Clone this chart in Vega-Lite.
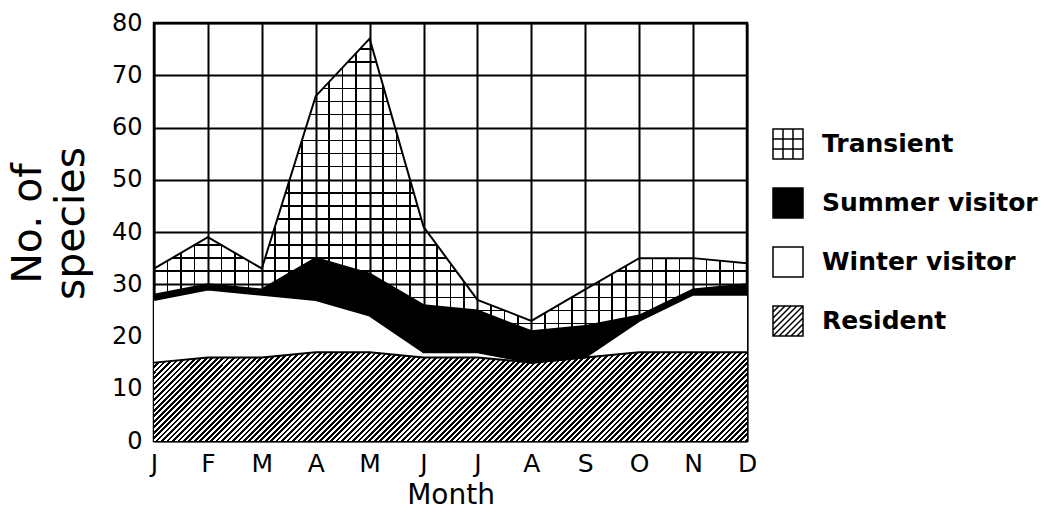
{
"$schema": "https://vega.github.io/schema/vega-lite/v6.json",
"width": 593, "height": 418,
"autosize": {"type": "none"},
"padding": {"left": 154, "top": 23, "right": 302, "bottom": 82},
"background": "white",
"data": {"values": [
{"month":1,"type":"Resident","count":15},{"month":1,"type":"Winter visitor","count":12},{"month":1,"type":"Summer visitor","count":1},{"month":1,"type":"Transient","count":5},
{"month":2,"type":"Resident","count":16},{"month":2,"type":"Winter visitor","count":13},{"month":2,"type":"Summer visitor","count":1},{"month":2,"type":"Transient","count":9},
{"month":3,"type":"Resident","count":16},{"month":3,"type":"Winter visitor","count":12},{"month":3,"type":"Summer visitor","count":1},{"month":3,"type":"Transient","count":4},
{"month":4,"type":"Resident","count":17},{"month":4,"type":"Winter visitor","count":10},{"month":4,"type":"Summer visitor","count":8},{"month":4,"type":"Transient","count":31},
{"month":5,"type":"Resident","count":17},{"month":5,"type":"Winter visitor","count":7},{"month":5,"type":"Summer visitor","count":8},{"month":5,"type":"Transient","count":45},
{"month":6,"type":"Resident","count":16},{"month":6,"type":"Winter visitor","count":1},{"month":6,"type":"Summer visitor","count":9},{"month":6,"type":"Transient","count":15},
{"month":7,"type":"Resident","count":16},{"month":7,"type":"Winter visitor","count":1},{"month":7,"type":"Summer visitor","count":8},{"month":7,"type":"Transient","count":2},
{"month":8,"type":"Resident","count":15},{"month":8,"type":"Winter visitor","count":0},{"month":8,"type":"Summer visitor","count":6},{"month":8,"type":"Transient","count":2},
{"month":9,"type":"Resident","count":16},{"month":9,"type":"Winter visitor","count":0},{"month":9,"type":"Summer visitor","count":6},{"month":9,"type":"Transient","count":7},
{"month":10,"type":"Resident","count":17},{"month":10,"type":"Winter visitor","count":6},{"month":10,"type":"Summer visitor","count":1},{"month":10,"type":"Transient","count":11},
{"month":11,"type":"Resident","count":17},{"month":11,"type":"Winter visitor","count":11},{"month":11,"type":"Summer visitor","count":1},{"month":11,"type":"Transient","count":6},
{"month":12,"type":"Resident","count":17},{"month":12,"type":"Winter visitor","count":11},{"month":12,"type":"Summer visitor","count":2},{"month":12,"type":"Transient","count":4}
]},
"transform": [{"stack": "count", "groupby": ["month"], "as": ["lo", "hi"]}],
"encoding": {
  "x": {"field": "month", "type": "quantitative",
        "scale": {"domain": [1, 12], "nice": false, "zero": false},
        "axis": {"values": [1,2,3,4,5,6,7,8,9,10,11,12],
                 "labelExpr": "['J','F','M','A','M','J','J','A','S','O','N','D'][datum.value - 1]",
                 "grid": true, "ticks": false, "tickSize": 0, "domain": false,
                 "labelFlush": false, "labelOverlap": false,
                 "labelFontSize": 25, "labelPadding": 10,
                 "title": "Month", "titleFontSize": 28, "titleX": 296.5, "titleY": 62, "titleBaseline": "alphabetic"}},
  "y": {"field": "hi", "type": "quantitative", "stack": null,
        "scale": {"domain": [0, 80], "nice": false},
        "axis": {"values": [0,10,20,30,40,50,60,70,80],
                 "grid": true, "ticks": false, "tickSize": 0, "domain": false,
                 "labelFlush": false, "labelOverlap": false,
                 "labelFontSize": 24, "labelPadding": 12,
                 "title": ["No. of", "species"], "titleFontSize": 41,
                 "titleX": -114, "titleY": 200, "titleAngle": -90,
                 "titleAlign": "center", "titleBaseline": "alphabetic", "titleLineHeight": 43}}
},
"layer": [
  {"mark": {"type": "area"},
   "encoding": {
     "y2": {"field": "lo"},
     "color": {"field": "type", "type": "nominal",
               "scale": {"domain": ["Transient", "Summer visitor", "Winter visitor", "Resident"],
                         "range": ["transparent", "black", "white", "white"]},
               "legend": {"title": null, "orient": "none", "legendX": 618, "legendY": 105, "direction": "vertical",
                          "symbolSize": 900, "symbolStrokeWidth": 1.5, "symbolStrokeColor": "black",
                          "labelFont": "DejaVu Sans", "labelFontWeight": "bold", "labelFontSize": 25, "labelColor": "black",
                          "labelOffset": 18, "rowPadding": 23, "padding": 0, "labelLimit": 400,
                          "encoding": {"symbols": {
                             "shape": {"condition": [
                                {"test": "datum.value === 'Transient'", "value": "M-1,-1H1V1H-1ZM-0.333,-1V1M0.333,-1V1M-1,-0.333H1M-1,0.333H1"},
                                {"test": "datum.value === 'Resident'", "value": "M-1,-1H1V1H-1ZM-1,-0.6L-0.6,-1M-1,-0.2L-0.2,-1M-1,0.2L0.2,-1M-1,0.6L0.6,-1M-1,1L1,-1M-0.6,1L1,-0.6M-0.2,1L1,-0.2M0.2,1L1,0.2M0.6,1L1,0.6"}],
                                "value": "square"},
                             "fill": {"condition": {"test": "datum.value === 'Summer visitor'", "value": "black"}, "value": "white"},
                             "stroke": {"value": "black"},
                             "strokeWidth": {"value": 1.5},
                             "opacity": {"value": 1},
                             "fillOpacity": {"value": 1}}}}}}},
  {"transform": [{"filter": "datum.type === 'Resident'"}],
   "mark": {"type": "area", "fill": {"gradient": "linear", "x1": 0, "y1": 0, "x2": 1.1246, "y2": 0.1684, "stops": [
{"offset":0,"color":"#fff"},
{"offset":0.004,"color":"#fff"},{"offset":0.004,"color":"#000"},{"offset":0.008,"color":"#000"},{"offset":0.008,"color":"#fff"},
{"offset":0.012,"color":"#fff"},{"offset":0.012,"color":"#000"},{"offset":0.016,"color":"#000"},{"offset":0.016,"color":"#fff"},
{"offset":0.02,"color":"#fff"},{"offset":0.02,"color":"#000"},{"offset":0.024,"color":"#000"},{"offset":0.024,"color":"#fff"},
{"offset":0.028,"color":"#fff"},{"offset":0.028,"color":"#000"},{"offset":0.032,"color":"#000"},{"offset":0.032,"color":"#fff"},
{"offset":0.036,"color":"#fff"},{"offset":0.036,"color":"#000"},{"offset":0.04,"color":"#000"},{"offset":0.04,"color":"#fff"},
{"offset":0.044,"color":"#fff"},{"offset":0.044,"color":"#000"},{"offset":0.048,"color":"#000"},{"offset":0.048,"color":"#fff"},
{"offset":0.052,"color":"#fff"},{"offset":0.052,"color":"#000"},{"offset":0.056,"color":"#000"},{"offset":0.056,"color":"#fff"},
{"offset":0.06,"color":"#fff"},{"offset":0.06,"color":"#000"},{"offset":0.064,"color":"#000"},{"offset":0.064,"color":"#fff"},
{"offset":0.068,"color":"#fff"},{"offset":0.068,"color":"#000"},{"offset":0.072,"color":"#000"},{"offset":0.072,"color":"#fff"},
{"offset":0.076,"color":"#fff"},{"offset":0.076,"color":"#000"},{"offset":0.08,"color":"#000"},{"offset":0.08,"color":"#fff"},
{"offset":0.084,"color":"#fff"},{"offset":0.084,"color":"#000"},{"offset":0.088,"color":"#000"},{"offset":0.088,"color":"#fff"},
{"offset":0.092,"color":"#fff"},{"offset":0.092,"color":"#000"},{"offset":0.096,"color":"#000"},{"offset":0.096,"color":"#fff"},
{"offset":0.1,"color":"#fff"},{"offset":0.1,"color":"#000"},{"offset":0.104,"color":"#000"},{"offset":0.104,"color":"#fff"},
{"offset":0.108,"color":"#fff"},{"offset":0.108,"color":"#000"},{"offset":0.112,"color":"#000"},{"offset":0.112,"color":"#fff"},
{"offset":0.116,"color":"#fff"},{"offset":0.116,"color":"#000"},{"offset":0.12,"color":"#000"},{"offset":0.12,"color":"#fff"},
{"offset":0.124,"color":"#fff"},{"offset":0.124,"color":"#000"},{"offset":0.128,"color":"#000"},{"offset":0.128,"color":"#fff"},
{"offset":0.132,"color":"#fff"},{"offset":0.132,"color":"#000"},{"offset":0.136,"color":"#000"},{"offset":0.136,"color":"#fff"},
{"offset":0.14,"color":"#fff"},{"offset":0.14,"color":"#000"},{"offset":0.144,"color":"#000"},{"offset":0.144,"color":"#fff"},
{"offset":0.148,"color":"#fff"},{"offset":0.148,"color":"#000"},{"offset":0.152,"color":"#000"},{"offset":0.152,"color":"#fff"},
{"offset":0.156,"color":"#fff"},{"offset":0.156,"color":"#000"},{"offset":0.16,"color":"#000"},{"offset":0.16,"color":"#fff"},
{"offset":0.164,"color":"#fff"},{"offset":0.164,"color":"#000"},{"offset":0.168,"color":"#000"},{"offset":0.168,"color":"#fff"},
{"offset":0.172,"color":"#fff"},{"offset":0.172,"color":"#000"},{"offset":0.176,"color":"#000"},{"offset":0.176,"color":"#fff"},
{"offset":0.18,"color":"#fff"},{"offset":0.18,"color":"#000"},{"offset":0.184,"color":"#000"},{"offset":0.184,"color":"#fff"},
{"offset":0.188,"color":"#fff"},{"offset":0.188,"color":"#000"},{"offset":0.192,"color":"#000"},{"offset":0.192,"color":"#fff"},
{"offset":0.196,"color":"#fff"},{"offset":0.196,"color":"#000"},{"offset":0.2,"color":"#000"},{"offset":0.2,"color":"#fff"},
{"offset":0.204,"color":"#fff"},{"offset":0.204,"color":"#000"},{"offset":0.208,"color":"#000"},{"offset":0.208,"color":"#fff"},
{"offset":0.212,"color":"#fff"},{"offset":0.212,"color":"#000"},{"offset":0.216,"color":"#000"},{"offset":0.216,"color":"#fff"},
{"offset":0.22,"color":"#fff"},{"offset":0.22,"color":"#000"},{"offset":0.224,"color":"#000"},{"offset":0.224,"color":"#fff"},
{"offset":0.228,"color":"#fff"},{"offset":0.228,"color":"#000"},{"offset":0.232,"color":"#000"},{"offset":0.232,"color":"#fff"},
{"offset":0.236,"color":"#fff"},{"offset":0.236,"color":"#000"},{"offset":0.24,"color":"#000"},{"offset":0.24,"color":"#fff"},
{"offset":0.244,"color":"#fff"},{"offset":0.244,"color":"#000"},{"offset":0.248,"color":"#000"},{"offset":0.248,"color":"#fff"},
{"offset":0.252,"color":"#fff"},{"offset":0.252,"color":"#000"},{"offset":0.256,"color":"#000"},{"offset":0.256,"color":"#fff"},
{"offset":0.26,"color":"#fff"},{"offset":0.26,"color":"#000"},{"offset":0.264,"color":"#000"},{"offset":0.264,"color":"#fff"},
{"offset":0.268,"color":"#fff"},{"offset":0.268,"color":"#000"},{"offset":0.272,"color":"#000"},{"offset":0.272,"color":"#fff"},
{"offset":0.276,"color":"#fff"},{"offset":0.276,"color":"#000"},{"offset":0.28,"color":"#000"},{"offset":0.28,"color":"#fff"},
{"offset":0.284,"color":"#fff"},{"offset":0.284,"color":"#000"},{"offset":0.288,"color":"#000"},{"offset":0.288,"color":"#fff"},
{"offset":0.292,"color":"#fff"},{"offset":0.292,"color":"#000"},{"offset":0.296,"color":"#000"},{"offset":0.296,"color":"#fff"},
{"offset":0.3,"color":"#fff"},{"offset":0.3,"color":"#000"},{"offset":0.304,"color":"#000"},{"offset":0.304,"color":"#fff"},
{"offset":0.308,"color":"#fff"},{"offset":0.308,"color":"#000"},{"offset":0.312,"color":"#000"},{"offset":0.312,"color":"#fff"},
{"offset":0.316,"color":"#fff"},{"offset":0.316,"color":"#000"},{"offset":0.32,"color":"#000"},{"offset":0.32,"color":"#fff"},
{"offset":0.324,"color":"#fff"},{"offset":0.324,"color":"#000"},{"offset":0.328,"color":"#000"},{"offset":0.328,"color":"#fff"},
{"offset":0.332,"color":"#fff"},{"offset":0.332,"color":"#000"},{"offset":0.336,"color":"#000"},{"offset":0.336,"color":"#fff"},
{"offset":0.34,"color":"#fff"},{"offset":0.34,"color":"#000"},{"offset":0.344,"color":"#000"},{"offset":0.344,"color":"#fff"},
{"offset":0.348,"color":"#fff"},{"offset":0.348,"color":"#000"},{"offset":0.352,"color":"#000"},{"offset":0.352,"color":"#fff"},
{"offset":0.356,"color":"#fff"},{"offset":0.356,"color":"#000"},{"offset":0.36,"color":"#000"},{"offset":0.36,"color":"#fff"},
{"offset":0.364,"color":"#fff"},{"offset":0.364,"color":"#000"},{"offset":0.368,"color":"#000"},{"offset":0.368,"color":"#fff"},
{"offset":0.372,"color":"#fff"},{"offset":0.372,"color":"#000"},{"offset":0.376,"color":"#000"},{"offset":0.376,"color":"#fff"},
{"offset":0.38,"color":"#fff"},{"offset":0.38,"color":"#000"},{"offset":0.384,"color":"#000"},{"offset":0.384,"color":"#fff"},
{"offset":0.388,"color":"#fff"},{"offset":0.388,"color":"#000"},{"offset":0.392,"color":"#000"},{"offset":0.392,"color":"#fff"},
{"offset":0.396,"color":"#fff"},{"offset":0.396,"color":"#000"},{"offset":0.4,"color":"#000"},{"offset":0.4,"color":"#fff"},
{"offset":0.404,"color":"#fff"},{"offset":0.404,"color":"#000"},{"offset":0.408,"color":"#000"},{"offset":0.408,"color":"#fff"},
{"offset":0.412,"color":"#fff"},{"offset":0.412,"color":"#000"},{"offset":0.416,"color":"#000"},{"offset":0.416,"color":"#fff"},
{"offset":0.42,"color":"#fff"},{"offset":0.42,"color":"#000"},{"offset":0.424,"color":"#000"},{"offset":0.424,"color":"#fff"},
{"offset":0.428,"color":"#fff"},{"offset":0.428,"color":"#000"},{"offset":0.432,"color":"#000"},{"offset":0.432,"color":"#fff"},
{"offset":0.436,"color":"#fff"},{"offset":0.436,"color":"#000"},{"offset":0.44,"color":"#000"},{"offset":0.44,"color":"#fff"},
{"offset":0.444,"color":"#fff"},{"offset":0.444,"color":"#000"},{"offset":0.448,"color":"#000"},{"offset":0.448,"color":"#fff"},
{"offset":0.452,"color":"#fff"},{"offset":0.452,"color":"#000"},{"offset":0.456,"color":"#000"},{"offset":0.456,"color":"#fff"},
{"offset":0.46,"color":"#fff"},{"offset":0.46,"color":"#000"},{"offset":0.464,"color":"#000"},{"offset":0.464,"color":"#fff"},
{"offset":0.468,"color":"#fff"},{"offset":0.468,"color":"#000"},{"offset":0.472,"color":"#000"},{"offset":0.472,"color":"#fff"},
{"offset":0.476,"color":"#fff"},{"offset":0.476,"color":"#000"},{"offset":0.48,"color":"#000"},{"offset":0.48,"color":"#fff"},
{"offset":0.484,"color":"#fff"},{"offset":0.484,"color":"#000"},{"offset":0.488,"color":"#000"},{"offset":0.488,"color":"#fff"},
{"offset":0.492,"color":"#fff"},{"offset":0.492,"color":"#000"},{"offset":0.496,"color":"#000"},{"offset":0.496,"color":"#fff"},
{"offset":0.5,"color":"#fff"},{"offset":0.5,"color":"#000"},{"offset":0.504,"color":"#000"},{"offset":0.504,"color":"#fff"},
{"offset":0.508,"color":"#fff"},{"offset":0.508,"color":"#000"},{"offset":0.512,"color":"#000"},{"offset":0.512,"color":"#fff"},
{"offset":0.516,"color":"#fff"},{"offset":0.516,"color":"#000"},{"offset":0.52,"color":"#000"},{"offset":0.52,"color":"#fff"},
{"offset":0.524,"color":"#fff"},{"offset":0.524,"color":"#000"},{"offset":0.528,"color":"#000"},{"offset":0.528,"color":"#fff"},
{"offset":0.532,"color":"#fff"},{"offset":0.532,"color":"#000"},{"offset":0.536,"color":"#000"},{"offset":0.536,"color":"#fff"},
{"offset":0.54,"color":"#fff"},{"offset":0.54,"color":"#000"},{"offset":0.544,"color":"#000"},{"offset":0.544,"color":"#fff"},
{"offset":0.548,"color":"#fff"},{"offset":0.548,"color":"#000"},{"offset":0.552,"color":"#000"},{"offset":0.552,"color":"#fff"},
{"offset":0.556,"color":"#fff"},{"offset":0.556,"color":"#000"},{"offset":0.56,"color":"#000"},{"offset":0.56,"color":"#fff"},
{"offset":0.564,"color":"#fff"},{"offset":0.564,"color":"#000"},{"offset":0.568,"color":"#000"},{"offset":0.568,"color":"#fff"},
{"offset":0.572,"color":"#fff"},{"offset":0.572,"color":"#000"},{"offset":0.576,"color":"#000"},{"offset":0.576,"color":"#fff"},
{"offset":0.58,"color":"#fff"},{"offset":0.58,"color":"#000"},{"offset":0.584,"color":"#000"},{"offset":0.584,"color":"#fff"},
{"offset":0.588,"color":"#fff"},{"offset":0.588,"color":"#000"},{"offset":0.592,"color":"#000"},{"offset":0.592,"color":"#fff"},
{"offset":0.596,"color":"#fff"},{"offset":0.596,"color":"#000"},{"offset":0.6,"color":"#000"},{"offset":0.6,"color":"#fff"},
{"offset":0.604,"color":"#fff"},{"offset":0.604,"color":"#000"},{"offset":0.608,"color":"#000"},{"offset":0.608,"color":"#fff"},
{"offset":0.612,"color":"#fff"},{"offset":0.612,"color":"#000"},{"offset":0.616,"color":"#000"},{"offset":0.616,"color":"#fff"},
{"offset":0.62,"color":"#fff"},{"offset":0.62,"color":"#000"},{"offset":0.624,"color":"#000"},{"offset":0.624,"color":"#fff"},
{"offset":0.628,"color":"#fff"},{"offset":0.628,"color":"#000"},{"offset":0.632,"color":"#000"},{"offset":0.632,"color":"#fff"},
{"offset":0.636,"color":"#fff"},{"offset":0.636,"color":"#000"},{"offset":0.64,"color":"#000"},{"offset":0.64,"color":"#fff"},
{"offset":0.644,"color":"#fff"},{"offset":0.644,"color":"#000"},{"offset":0.648,"color":"#000"},{"offset":0.648,"color":"#fff"},
{"offset":0.652,"color":"#fff"},{"offset":0.652,"color":"#000"},{"offset":0.656,"color":"#000"},{"offset":0.656,"color":"#fff"},
{"offset":0.66,"color":"#fff"},{"offset":0.66,"color":"#000"},{"offset":0.664,"color":"#000"},{"offset":0.664,"color":"#fff"},
{"offset":0.668,"color":"#fff"},{"offset":0.668,"color":"#000"},{"offset":0.672,"color":"#000"},{"offset":0.672,"color":"#fff"},
{"offset":0.676,"color":"#fff"},{"offset":0.676,"color":"#000"},{"offset":0.68,"color":"#000"},{"offset":0.68,"color":"#fff"},
{"offset":0.684,"color":"#fff"},{"offset":0.684,"color":"#000"},{"offset":0.688,"color":"#000"},{"offset":0.688,"color":"#fff"},
{"offset":0.692,"color":"#fff"},{"offset":0.692,"color":"#000"},{"offset":0.696,"color":"#000"},{"offset":0.696,"color":"#fff"},
{"offset":0.7,"color":"#fff"},{"offset":0.7,"color":"#000"},{"offset":0.704,"color":"#000"},{"offset":0.704,"color":"#fff"},
{"offset":0.708,"color":"#fff"},{"offset":0.708,"color":"#000"},{"offset":0.712,"color":"#000"},{"offset":0.712,"color":"#fff"},
{"offset":0.716,"color":"#fff"},{"offset":0.716,"color":"#000"},{"offset":0.72,"color":"#000"},{"offset":0.72,"color":"#fff"},
{"offset":0.724,"color":"#fff"},{"offset":0.724,"color":"#000"},{"offset":0.728,"color":"#000"},{"offset":0.728,"color":"#fff"},
{"offset":0.732,"color":"#fff"},{"offset":0.732,"color":"#000"},{"offset":0.736,"color":"#000"},{"offset":0.736,"color":"#fff"},
{"offset":0.74,"color":"#fff"},{"offset":0.74,"color":"#000"},{"offset":0.744,"color":"#000"},{"offset":0.744,"color":"#fff"},
{"offset":0.748,"color":"#fff"},{"offset":0.748,"color":"#000"},{"offset":0.752,"color":"#000"},{"offset":0.752,"color":"#fff"},
{"offset":0.756,"color":"#fff"},{"offset":0.756,"color":"#000"},{"offset":0.76,"color":"#000"},{"offset":0.76,"color":"#fff"},
{"offset":0.764,"color":"#fff"},{"offset":0.764,"color":"#000"},{"offset":0.768,"color":"#000"},{"offset":0.768,"color":"#fff"},
{"offset":0.772,"color":"#fff"},{"offset":0.772,"color":"#000"},{"offset":0.776,"color":"#000"},{"offset":0.776,"color":"#fff"},
{"offset":0.78,"color":"#fff"},{"offset":0.78,"color":"#000"},{"offset":0.784,"color":"#000"},{"offset":0.784,"color":"#fff"},
{"offset":0.788,"color":"#fff"},{"offset":0.788,"color":"#000"},{"offset":0.792,"color":"#000"},{"offset":0.792,"color":"#fff"},
{"offset":0.796,"color":"#fff"},{"offset":0.796,"color":"#000"},{"offset":0.8,"color":"#000"},{"offset":0.8,"color":"#fff"},
{"offset":0.804,"color":"#fff"},{"offset":0.804,"color":"#000"},{"offset":0.808,"color":"#000"},{"offset":0.808,"color":"#fff"},
{"offset":0.812,"color":"#fff"},{"offset":0.812,"color":"#000"},{"offset":0.816,"color":"#000"},{"offset":0.816,"color":"#fff"},
{"offset":0.82,"color":"#fff"},{"offset":0.82,"color":"#000"},{"offset":0.824,"color":"#000"},{"offset":0.824,"color":"#fff"},
{"offset":0.828,"color":"#fff"},{"offset":0.828,"color":"#000"},{"offset":0.832,"color":"#000"},{"offset":0.832,"color":"#fff"},
{"offset":0.836,"color":"#fff"},{"offset":0.836,"color":"#000"},{"offset":0.84,"color":"#000"},{"offset":0.84,"color":"#fff"},
{"offset":0.844,"color":"#fff"},{"offset":0.844,"color":"#000"},{"offset":0.848,"color":"#000"},{"offset":0.848,"color":"#fff"},
{"offset":0.852,"color":"#fff"},{"offset":0.852,"color":"#000"},{"offset":0.856,"color":"#000"},{"offset":0.856,"color":"#fff"},
{"offset":0.86,"color":"#fff"},{"offset":0.86,"color":"#000"},{"offset":0.864,"color":"#000"},{"offset":0.864,"color":"#fff"},
{"offset":0.868,"color":"#fff"},{"offset":0.868,"color":"#000"},{"offset":0.872,"color":"#000"},{"offset":0.872,"color":"#fff"},
{"offset":0.876,"color":"#fff"},{"offset":0.876,"color":"#000"},{"offset":0.88,"color":"#000"},{"offset":0.88,"color":"#fff"},
{"offset":0.884,"color":"#fff"},{"offset":0.884,"color":"#000"},{"offset":0.888,"color":"#000"},{"offset":0.888,"color":"#fff"},
{"offset":0.892,"color":"#fff"},{"offset":0.892,"color":"#000"},{"offset":0.896,"color":"#000"},{"offset":0.896,"color":"#fff"},
{"offset":0.9,"color":"#fff"},{"offset":0.9,"color":"#000"},{"offset":0.904,"color":"#000"},{"offset":0.904,"color":"#fff"},
{"offset":0.908,"color":"#fff"},{"offset":0.908,"color":"#000"},{"offset":0.912,"color":"#000"},{"offset":0.912,"color":"#fff"},
{"offset":0.916,"color":"#fff"},{"offset":0.916,"color":"#000"},{"offset":0.92,"color":"#000"},{"offset":0.92,"color":"#fff"},
{"offset":0.924,"color":"#fff"},{"offset":0.924,"color":"#000"},{"offset":0.928,"color":"#000"},{"offset":0.928,"color":"#fff"},
{"offset":0.932,"color":"#fff"},{"offset":0.932,"color":"#000"},{"offset":0.936,"color":"#000"},{"offset":0.936,"color":"#fff"},
{"offset":0.94,"color":"#fff"},{"offset":0.94,"color":"#000"},{"offset":0.944,"color":"#000"},{"offset":0.944,"color":"#fff"},
{"offset":0.948,"color":"#fff"},{"offset":0.948,"color":"#000"},{"offset":0.952,"color":"#000"},{"offset":0.952,"color":"#fff"},
{"offset":0.956,"color":"#fff"},{"offset":0.956,"color":"#000"},{"offset":0.96,"color":"#000"},{"offset":0.96,"color":"#fff"},
{"offset":0.964,"color":"#fff"},{"offset":0.964,"color":"#000"},{"offset":0.968,"color":"#000"},{"offset":0.968,"color":"#fff"},
{"offset":0.972,"color":"#fff"},{"offset":0.972,"color":"#000"},{"offset":0.976,"color":"#000"},{"offset":0.976,"color":"#fff"},
{"offset":0.98,"color":"#fff"},{"offset":0.98,"color":"#000"},{"offset":0.984,"color":"#000"},{"offset":0.984,"color":"#fff"},
{"offset":0.988,"color":"#fff"},{"offset":0.988,"color":"#000"},{"offset":0.992,"color":"#000"},{"offset":0.992,"color":"#fff"},
{"offset":0.996,"color":"#fff"},{"offset":0.996,"color":"#000"},{"offset":1,"color":"#000"}
   ]}},
   "encoding": {"y2": {"field": "lo"}}},
  {"transform": [{"filter": "datum.type === 'Transient'"}],
   "mark": {"type": "area", "fill": {"gradient": "linear", "x1": 0, "y1": 0, "x2": 1, "y2": 0, "stops": [
{"offset":0,"color":"transparent"},
{"offset":0.0214,"color":"transparent"},{"offset":0.0214,"color":"#000"},{"offset":0.024,"color":"#000"},{"offset":0.024,"color":"transparent"},
{"offset":0.0442,"color":"transparent"},{"offset":0.0442,"color":"#000"},{"offset":0.0468,"color":"#000"},{"offset":0.0468,"color":"transparent"},
{"offset":0.0669,"color":"transparent"},{"offset":0.0669,"color":"#000"},{"offset":0.0695,"color":"#000"},{"offset":0.0695,"color":"transparent"},
{"offset":0.1123,"color":"transparent"},{"offset":0.1123,"color":"#000"},{"offset":0.1149,"color":"#000"},{"offset":0.1149,"color":"transparent"},
{"offset":0.1351,"color":"transparent"},{"offset":0.1351,"color":"#000"},{"offset":0.1377,"color":"#000"},{"offset":0.1377,"color":"transparent"},
{"offset":0.1578,"color":"transparent"},{"offset":0.1578,"color":"#000"},{"offset":0.1604,"color":"#000"},{"offset":0.1604,"color":"transparent"},
{"offset":0.2032,"color":"transparent"},{"offset":0.2032,"color":"#000"},{"offset":0.2058,"color":"#000"},{"offset":0.2058,"color":"transparent"},
{"offset":0.226,"color":"transparent"},{"offset":0.226,"color":"#000"},{"offset":0.2286,"color":"#000"},{"offset":0.2286,"color":"transparent"},
{"offset":0.2487,"color":"transparent"},{"offset":0.2487,"color":"#000"},{"offset":0.2513,"color":"#000"},{"offset":0.2513,"color":"transparent"},
{"offset":0.2942,"color":"transparent"},{"offset":0.2942,"color":"#000"},{"offset":0.2968,"color":"#000"},{"offset":0.2968,"color":"transparent"},
{"offset":0.3169,"color":"transparent"},{"offset":0.3169,"color":"#000"},{"offset":0.3195,"color":"#000"},{"offset":0.3195,"color":"transparent"},
{"offset":0.3396,"color":"transparent"},{"offset":0.3396,"color":"#000"},{"offset":0.3422,"color":"#000"},{"offset":0.3422,"color":"transparent"},
{"offset":0.3851,"color":"transparent"},{"offset":0.3851,"color":"#000"},{"offset":0.3877,"color":"#000"},{"offset":0.3877,"color":"transparent"},
{"offset":0.4078,"color":"transparent"},{"offset":0.4078,"color":"#000"},{"offset":0.4104,"color":"#000"},{"offset":0.4104,"color":"transparent"},
{"offset":0.4305,"color":"transparent"},{"offset":0.4305,"color":"#000"},{"offset":0.4331,"color":"#000"},{"offset":0.4331,"color":"transparent"},
{"offset":0.476,"color":"transparent"},{"offset":0.476,"color":"#000"},{"offset":0.4786,"color":"#000"},{"offset":0.4786,"color":"transparent"},
{"offset":0.4987,"color":"transparent"},{"offset":0.4987,"color":"#000"},{"offset":0.5013,"color":"#000"},{"offset":0.5013,"color":"transparent"},
{"offset":0.5214,"color":"transparent"},{"offset":0.5214,"color":"#000"},{"offset":0.524,"color":"#000"},{"offset":0.524,"color":"transparent"},
{"offset":0.5669,"color":"transparent"},{"offset":0.5669,"color":"#000"},{"offset":0.5695,"color":"#000"},{"offset":0.5695,"color":"transparent"},
{"offset":0.5896,"color":"transparent"},{"offset":0.5896,"color":"#000"},{"offset":0.5922,"color":"#000"},{"offset":0.5922,"color":"transparent"},
{"offset":0.6123,"color":"transparent"},{"offset":0.6123,"color":"#000"},{"offset":0.6149,"color":"#000"},{"offset":0.6149,"color":"transparent"},
{"offset":0.6578,"color":"transparent"},{"offset":0.6578,"color":"#000"},{"offset":0.6604,"color":"#000"},{"offset":0.6604,"color":"transparent"},
{"offset":0.6805,"color":"transparent"},{"offset":0.6805,"color":"#000"},{"offset":0.6831,"color":"#000"},{"offset":0.6831,"color":"transparent"},
{"offset":0.7032,"color":"transparent"},{"offset":0.7032,"color":"#000"},{"offset":0.7058,"color":"#000"},{"offset":0.7058,"color":"transparent"},
{"offset":0.7487,"color":"transparent"},{"offset":0.7487,"color":"#000"},{"offset":0.7513,"color":"#000"},{"offset":0.7513,"color":"transparent"},
{"offset":0.7714,"color":"transparent"},{"offset":0.7714,"color":"#000"},{"offset":0.774,"color":"#000"},{"offset":0.774,"color":"transparent"},
{"offset":0.7942,"color":"transparent"},{"offset":0.7942,"color":"#000"},{"offset":0.7968,"color":"#000"},{"offset":0.7968,"color":"transparent"},
{"offset":0.8396,"color":"transparent"},{"offset":0.8396,"color":"#000"},{"offset":0.8422,"color":"#000"},{"offset":0.8422,"color":"transparent"},
{"offset":0.8623,"color":"transparent"},{"offset":0.8623,"color":"#000"},{"offset":0.8649,"color":"#000"},{"offset":0.8649,"color":"transparent"},
{"offset":0.8851,"color":"transparent"},{"offset":0.8851,"color":"#000"},{"offset":0.8877,"color":"#000"},{"offset":0.8877,"color":"transparent"},
{"offset":0.9305,"color":"transparent"},{"offset":0.9305,"color":"#000"},{"offset":0.9331,"color":"#000"},{"offset":0.9331,"color":"transparent"},
{"offset":0.9532,"color":"transparent"},{"offset":0.9532,"color":"#000"},{"offset":0.9558,"color":"#000"},{"offset":0.9558,"color":"transparent"},
{"offset":0.976,"color":"transparent"},{"offset":0.976,"color":"#000"},{"offset":0.9786,"color":"#000"},{"offset":0.9786,"color":"transparent"},
{"offset":1,"color":"transparent"}
   ]}},
   "encoding": {"y2": {"field": "lo"}}},
  {"transform": [{"filter": "datum.type === 'Transient'"}],
   "mark": {"type": "area", "fill": {"gradient": "linear", "x1": 0, "y1": 0, "x2": 0, "y2": 1, "stops": [
{"offset":0,"color":"transparent"},
{"offset":0.033,"color":"transparent"},{"offset":0.033,"color":"#000"},{"offset":0.0384,"color":"#000"},{"offset":0.0384,"color":"transparent"},
{"offset":0.0777,"color":"transparent"},{"offset":0.0777,"color":"#000"},{"offset":0.0831,"color":"#000"},{"offset":0.0831,"color":"transparent"},
{"offset":0.1669,"color":"transparent"},{"offset":0.1669,"color":"#000"},{"offset":0.1723,"color":"#000"},{"offset":0.1723,"color":"transparent"},
{"offset":0.2116,"color":"transparent"},{"offset":0.2116,"color":"#000"},{"offset":0.217,"color":"#000"},{"offset":0.217,"color":"transparent"},
{"offset":0.2562,"color":"transparent"},{"offset":0.2562,"color":"#000"},{"offset":0.2616,"color":"#000"},{"offset":0.2616,"color":"transparent"},
{"offset":0.3455,"color":"transparent"},{"offset":0.3455,"color":"#000"},{"offset":0.3509,"color":"#000"},{"offset":0.3509,"color":"transparent"},
{"offset":0.3902,"color":"transparent"},{"offset":0.3902,"color":"#000"},{"offset":0.3956,"color":"#000"},{"offset":0.3956,"color":"transparent"},
{"offset":0.4348,"color":"transparent"},{"offset":0.4348,"color":"#000"},{"offset":0.4402,"color":"#000"},{"offset":0.4402,"color":"transparent"},
{"offset":0.5241,"color":"transparent"},{"offset":0.5241,"color":"#000"},{"offset":0.5295,"color":"#000"},{"offset":0.5295,"color":"transparent"},
{"offset":0.5687,"color":"transparent"},{"offset":0.5687,"color":"#000"},{"offset":0.5741,"color":"#000"},{"offset":0.5741,"color":"transparent"},
{"offset":0.6134,"color":"transparent"},{"offset":0.6134,"color":"#000"},{"offset":0.6188,"color":"#000"},{"offset":0.6188,"color":"transparent"},
{"offset":0.7027,"color":"transparent"},{"offset":0.7027,"color":"#000"},{"offset":0.7081,"color":"#000"},{"offset":0.7081,"color":"transparent"},
{"offset":0.7473,"color":"transparent"},{"offset":0.7473,"color":"#000"},{"offset":0.7527,"color":"#000"},{"offset":0.7527,"color":"transparent"},
{"offset":0.7919,"color":"transparent"},{"offset":0.7919,"color":"#000"},{"offset":0.7973,"color":"#000"},{"offset":0.7973,"color":"transparent"},
{"offset":0.8812,"color":"transparent"},{"offset":0.8812,"color":"#000"},{"offset":0.8866,"color":"#000"},{"offset":0.8866,"color":"transparent"},
{"offset":0.9259,"color":"transparent"},{"offset":0.9259,"color":"#000"},{"offset":0.9313,"color":"#000"},{"offset":0.9313,"color":"transparent"},
{"offset":0.9705,"color":"transparent"},{"offset":0.9705,"color":"#000"},{"offset":0.9759,"color":"#000"},{"offset":0.9759,"color":"transparent"},
{"offset":1,"color":"transparent"}
   ]}},
   "encoding": {"y2": {"field": "lo"}}},
  {"mark": {"type": "line", "color": "black", "strokeWidth": 2},
   "encoding": {"detail": {"field": "type", "type": "nominal"}}}
],
"config": {
  "view": {"stroke": "black", "strokeWidth": 2.5},
  "axis": {"gridColor": "black", "gridWidth": 2, "gridOpacity": 1,
           "labelFont": "DejaVu Sans", "titleFont": "DejaVu Sans",
           "labelColor": "black", "titleColor": "black", "titleFontWeight": "normal"}
}
}
